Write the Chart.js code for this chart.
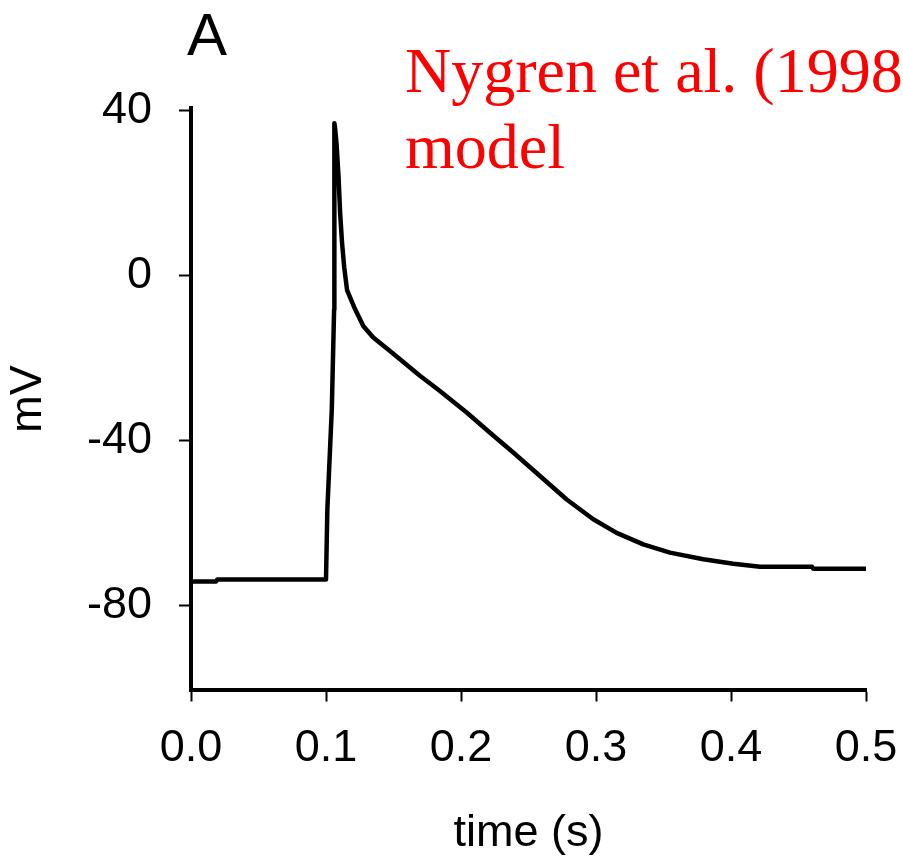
<!DOCTYPE html>
<html><head><meta charset="utf-8">
<script src="https://cdn.jsdelivr.net/npm/chart.js@4/dist/chart.umd.min.js"></script>
<style>html,body{margin:0;padding:0;background:#fff;overflow:hidden}#wrap{width:903px;height:856px;position:relative}</style>
</head><body><div id="wrap"><canvas id="c" width="903" height="856"></canvas></div>
<script>
const times = [0, 0.0185, 0.0195, 0.1000, 0.1010, 0.1043, 0.1060, 0.1062, 0.1068, 0.1078, 0.1093, 0.1105, 0.1119, 0.1135, 0.1156, 0.1215, 0.1276, 0.1350, 0.1474, 0.1548, 0.1696, 0.1844, 0.2042, 0.2215, 0.2387, 0.2585, 0.2783, 0.2980, 0.3153, 0.3350, 0.3548, 0.3795, 0.4017, 0.4215, 0.4600, 0.4610, 0.5000];
const volts = [-74.2, -74.2, -73.7, -73.7, -56.7, -32.4, -8.2, 37.0, 35.5, 32.0, 23.9, 15.0, 7.9, 2.0, -3.5, -8.1, -12.2, -15.0, -18.3, -20.3, -24.3, -28.0, -33.2, -38.1, -42.9, -48.6, -54.3, -59.1, -62.4, -65.2, -67.2, -68.8, -69.9, -70.6, -70.6, -71.1, -71.1];
const xTicks = [0, 0.1, 0.2, 0.3, 0.4, 0.5];
const yTicks = [-80, -40, 0, 40];
const panelLabel = 'A';
const noteLines = ['Nygren et al. (1998', 'model'];
const xTitle = 'time (s)';
const yTitle = 'mV';

const SANS = '"Liberation Sans", Arial, sans-serif';
const SERIF = '"Liberation Serif", "Times New Roman", serif';

const textPlugin = {
  id: 'txt',
  afterDraw(chart) {
    const ctx = chart.ctx;
    ctx.save();
    ctx.textBaseline = 'alphabetic';
    ctx.textAlign = 'left';
    ctx.fillStyle = '#000';
    ctx.font = '60px ' + SANS;
    ctx.fillText(panelLabel, 187, 55);
    ctx.fillStyle = '#ff0000';
    ctx.font = '64px ' + SERIF;
    noteLines.forEach((l, i) => ctx.fillText(l, 405, 92 + i * 76));
    ctx.restore();
  }
};

new Chart(document.getElementById('c'), {
  type: 'line',
  data: {
    datasets: [{
      data: times.map((t, i) => ({x: t, y: volts[i]})),
      borderColor: '#000',
      borderWidth: 4.5,
      pointRadius: 0,
      tension: 0,
      fill: false,
      borderJoinStyle: 'round',
      borderCapStyle: 'round'
    }]
  },
  options: {
    responsive: false,
    maintainAspectRatio: false,
    devicePixelRatio: 1,
    animation: false,
    layout: {padding: {top: 108.3, right: 37, left: 0, bottom: 0}},
    plugins: {legend: {display: false}, tooltip: {enabled: false}, title: {display: false}},
    scales: {
      x: {
        type: 'linear', min: 0, max: 0.5,
        afterBuildTicks: s => { s.ticks = xTicks.map(v => ({value: v})); },
        afterFit: s => { s.height = 166.5; s.paddingLeft = 0; s.paddingRight = 0; },
        grid: {display: true, drawOnChartArea: false, drawTicks: true, tickLength: 12, tickWidth: 2, tickColor: '#000'},
        border: {display: true, width: 4, color: '#000'},
        ticks: {color: '#000', font: {family: SANS, size: 45, lineHeight: 1}, padding: 25, maxRotation: 0, autoSkip: false,
          callback: v => Number(v).toFixed(1)},
        title: {display: true, text: xTitle, color: '#000', font: {family: SANS, size: 45, lineHeight: 1}, padding: {top: 0, bottom: 0}}
      },
      y: {
        type: 'linear', min: -100.4, max: 40.6,
        afterBuildTicks: s => { s.ticks = yTicks.map(v => ({value: v})); },
        afterFit: s => { s.width = 191; s.paddingTop = 0; s.paddingBottom = 0; },
        grid: {display: true, drawOnChartArea: false, drawTicks: true, tickLength: 12, tickWidth: 2, tickColor: '#000'},
        border: {display: true, width: 4, color: '#000'},
        ticks: {color: '#000', font: {family: SANS, size: 45, lineHeight: 1}, padding: 27, autoSkip: false,
          callback: v => String(v)},
        title: {display: true, text: yTitle, color: '#000', font: {family: SANS, size: 45, lineHeight: 1}, padding: {top: 6, bottom: 0}}
      }
    }
  },
  plugins: [textPlugin]
});
</script>
</body></html>
